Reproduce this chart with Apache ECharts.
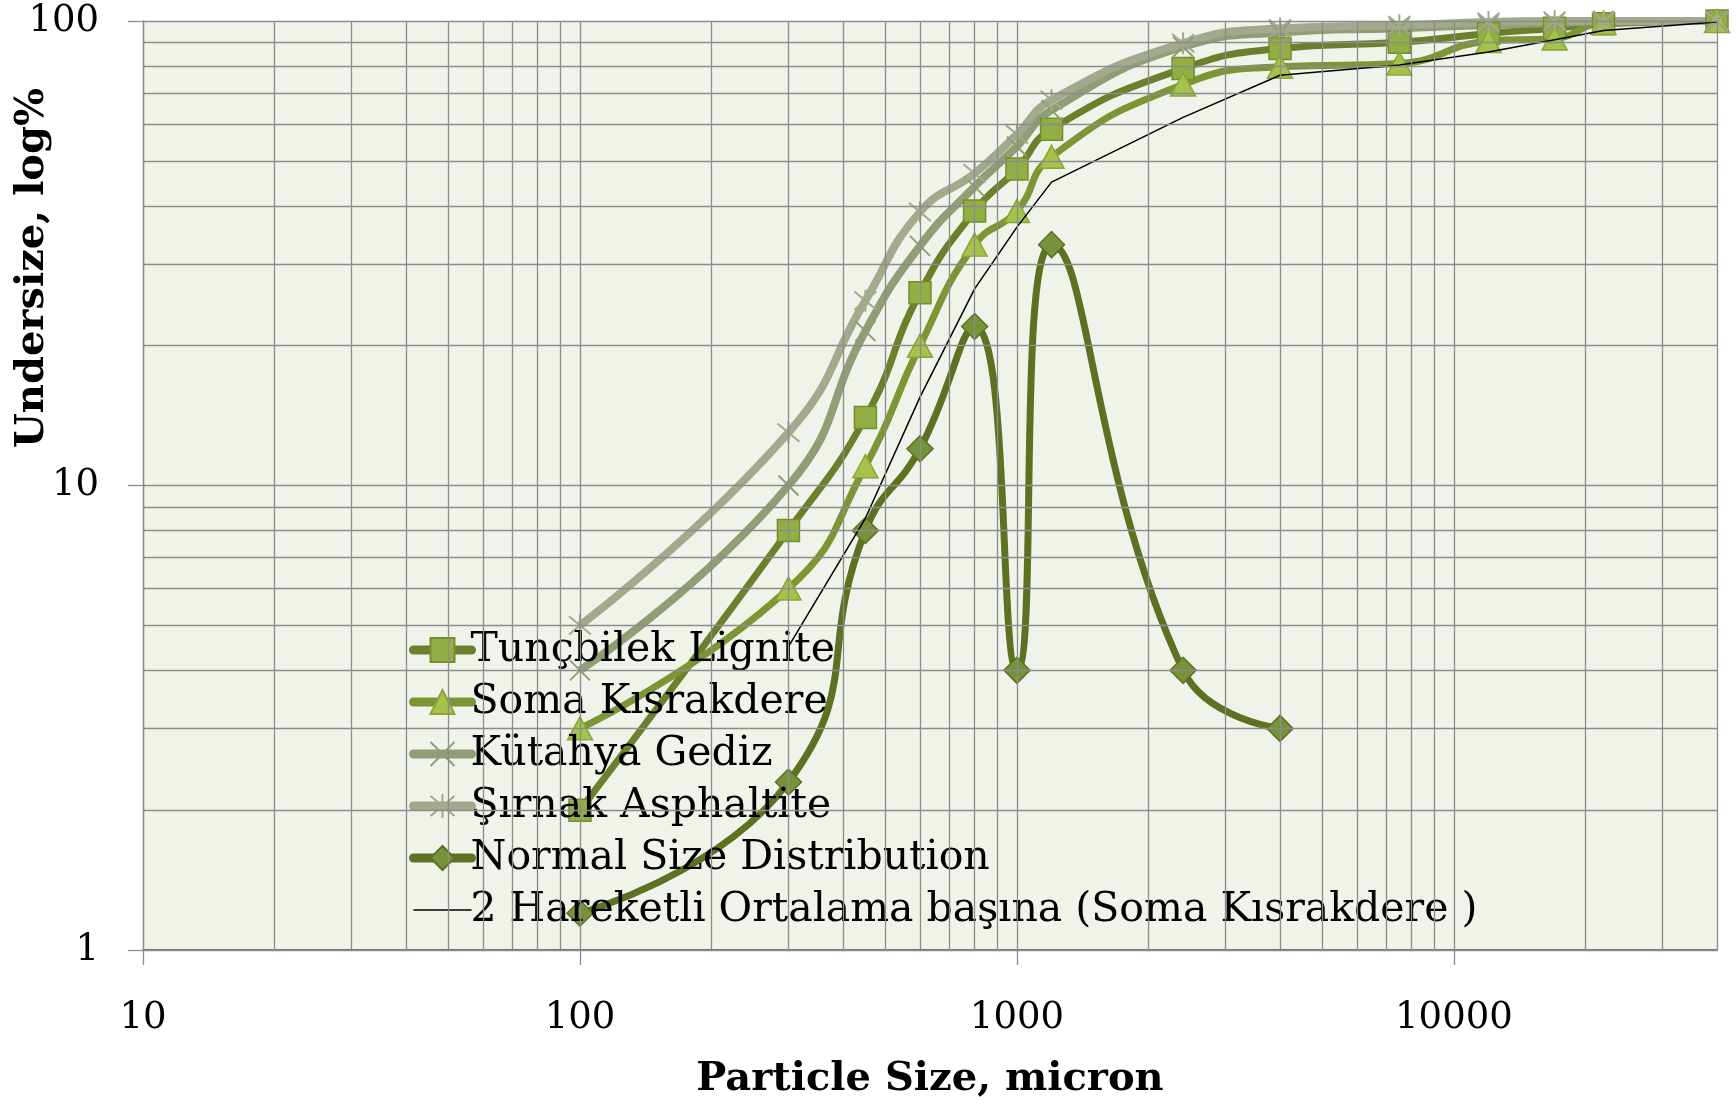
<!DOCTYPE html>
<html>
<head>
<meta charset="utf-8">
<script src="https://cdn.jsdelivr.net/npm/echarts@6/dist/echarts.min.js"></script>
<style>
html,body{margin:0;padding:0;background:#fff;}
#chart{width:1736px;height:1105px;}
</style>
</head>
<body>
<div id="chart"></div>
<script>
// ---- data ----
const sizes = [100, 300, 450, 600, 800, 1000, 1200, 2400, 4000, 7500, 12000, 17000, 22000, 40000];
const tuncbilek = [2, 8, 14, 26, 39, 48, 58.5, 79, 87.3, 90, 94, 96.5, 98.7, 100];
const soma = [3, 6, 11, 20, 33, 39, 51, 73, 79.7, 81, 90.5, 91.7, 99, 100];
const kutahya = [4, 10, 21.5, 32.8, 44, 53.7, 64.3, 88, 94.5, 96.5, 98, 99, 100, 100];
const sirnak = [5, 13, 25, 38.8, 47, 57, 67.6, 89.6, 96.3, 97.9, 99.5, 100, 100, 100];
const normalSizes = [100, 300, 450, 600, 800, 1000, 1200, 2400, 4000];
const normalDist = [1.2, 2.3, 8, 12, 22, 4, 33, 4, 3];
const maSizes = [300, 450, 600, 800, 1000, 1200, 2400, 4000, 7500, 12000, 17000, 22000, 40000];
const movingAvgSoma = [4.5, 8.5, 15.5, 26.5, 36, 45, 62, 76.4, 80.4, 85.8, 91.1, 95.4, 99.5];

const xTicks = [10, 100, 1000, 10000];
const yTicks = [1, 10, 100];
const xGrid = [10,20,30,40,50,60,70,80,90,100,200,300,400,500,600,700,800,900,1000,2000,3000,4000,5000,6000,7000,8000,9000,10000,20000,30000,40000];
const yGrid = [1,2,3,4,5,6,7,8,9,10,20,30,40,50,60,70,80,90,100];

const names = ['Tunçbilek Lignite', 'Soma Kısrakdere', 'Kütahya Gediz', 'Şırnak Asphaltite', 'Normal Size Distribution', '2 Hareketli Ortalama başına (Soma Kısrakdere )'];

function pairs(xs, ys) { return xs.map((x, i) => [x, ys[i]]); }

const chart = echarts.init(document.getElementById('chart'), null, {renderer: 'canvas'});
const serif = 'DejaVu Serif';
const X_PATH = 'path://M0,0L10,10M10,0L0,10';
const AST_PATH = 'path://M0,0L10,10M10,0L0,10M5,-1L5,11';

const option = {
  animation: false,
  backgroundColor: '#ffffff',
  grid: {left: 143, right: 19, top: 21, bottom: 153, show: true, backgroundColor: '#F0F3EA', borderWidth: 0},
  xAxis: {
    type: 'log', logBase: 10, min: 10, max: 40000,
    name: 'Particle Size, micron', nameLocation: 'middle', nameGap: 110,
    nameTextStyle: {fontFamily: serif, fontWeight: 'bold', fontSize: 40, color: '#000'},
    axisLine: {show: true, lineStyle: {color: '#6f6f6f', width: 2}},
    axisTick: {show: true, customValues: xTicks, length: 15, lineStyle: {color: '#8c8c8c', width: 1.3}},
    axisLabel: {customValues: xTicks, margin: 50, fontFamily: serif, fontSize: 37, color: '#000', formatter: v => String(Math.round(v))},
    splitLine: {show: false}, minorTick: {show: false}
  },
  yAxis: {
    type: 'log', logBase: 10, min: 1, max: 100,
    axisLine: {show: true, lineStyle: {color: '#8c8c8c', width: 1.3}},
    axisTick: {show: true, customValues: yTicks, length: 15, lineStyle: {color: '#8c8c8c', width: 1.3}},
    axisLabel: {customValues: yTicks, margin: 44, fontFamily: serif, fontSize: 37, color: '#000', formatter: v => String(Math.round(v))},
    splitLine: {show: false}
  },
  legend: {
    orient: 'vertical', left: 404, top: 619, itemGap: 0,
    itemWidth: 58, itemHeight: 30,
    textStyle: {fontFamily: serif, fontSize: 41, color: '#000', lineHeight: 52, padding: [0, 0, 0, -6]},
    lineStyle: {width: 9, cap: 'round'},
    data: [
      {name: names[0]},
      {name: names[1]},
      {name: names[2], itemStyle: {borderWidth: 2}},
      {name: names[3], itemStyle: {borderWidth: 2}},
      {name: names[4]},
      {name: names[5], lineStyle: {width: 1.5, cap: 'butt'}, itemStyle: {opacity: 0, color: 'transparent', borderWidth: 0}}
    ]
  },
  graphic: [{
    type: 'text', x: 33, y: 268, rotation: Math.PI / 2,
    style: {text: 'Undersize, log%', font: 'bold 40px "DejaVu Serif"', fill: '#000', align: 'center', verticalAlign: 'middle'}
  }],
  series: [
    {
      name: 'grid', type: 'line', data: [], z: 1, silent: true,
      markLine: {
        silent: true, symbol: ['none', 'none'], label: {show: false}, animation: false,
        lineStyle: {color: '#8c8c8c', width: 1.3, type: 'solid'},
        emphasis: {disabled: true},
        data: xGrid.map(v => ({xAxis: v})).concat(yGrid.map(v => ({yAxis: v})))
      }
    },
    {
      name: names[0], type: 'line', smooth: true, z: 2, data: pairs(sizes, tuncbilek),
      symbol: 'rect', symbolSize: 22,
      lineStyle: {color: '#6B7F2C', width: 7},
      itemStyle: {color: '#93AE45', borderColor: '#728F2C', borderWidth: 1.5}
    },
    {
      name: names[1], type: 'line', smooth: true, z: 2, data: pairs(sizes, soma),
      symbol: 'triangle', symbolSize: [25, 23],
      lineStyle: {color: '#7D9635', width: 7},
      itemStyle: {color: '#A5C34B', borderColor: '#8BA53A', borderWidth: 1.5}
    },
    {
      name: names[2], type: 'line', smooth: true, z: 2, data: pairs(sizes, kutahya),
      symbol: X_PATH, symbolSize: 20,
      lineStyle: {color: '#8F9E74', width: 8},
      itemStyle: {color: '#8F9E74', borderColor: '#8F9E74', borderWidth: 2}
    },
    {
      name: names[3], type: 'line', smooth: true, z: 2, data: pairs(sizes, sirnak),
      symbol: AST_PATH, symbolSize: 22,
      lineStyle: {color: '#A2A98D', width: 8},
      itemStyle: {color: '#A2A98D', borderColor: '#A2A98D', borderWidth: 2}
    },
    {
      name: names[4], type: 'line', smooth: true, z: 2, data: pairs(normalSizes, normalDist),
      symbol: 'diamond', symbolSize: 26,
      lineStyle: {color: '#5D7123', width: 7},
      itemStyle: {color: '#77923A', borderColor: '#5D7123', borderWidth: 1.5}
    },
    {
      name: names[5], type: 'line', smooth: false, z: 3, data: pairs(maSizes, movingAvgSoma),
      symbol: 'none',
      lineStyle: {color: '#000000', width: 1.5},
      itemStyle: {color: '#000000'}
    }
  ]
};
chart.setOption(option);
</script>
</body>
</html>
